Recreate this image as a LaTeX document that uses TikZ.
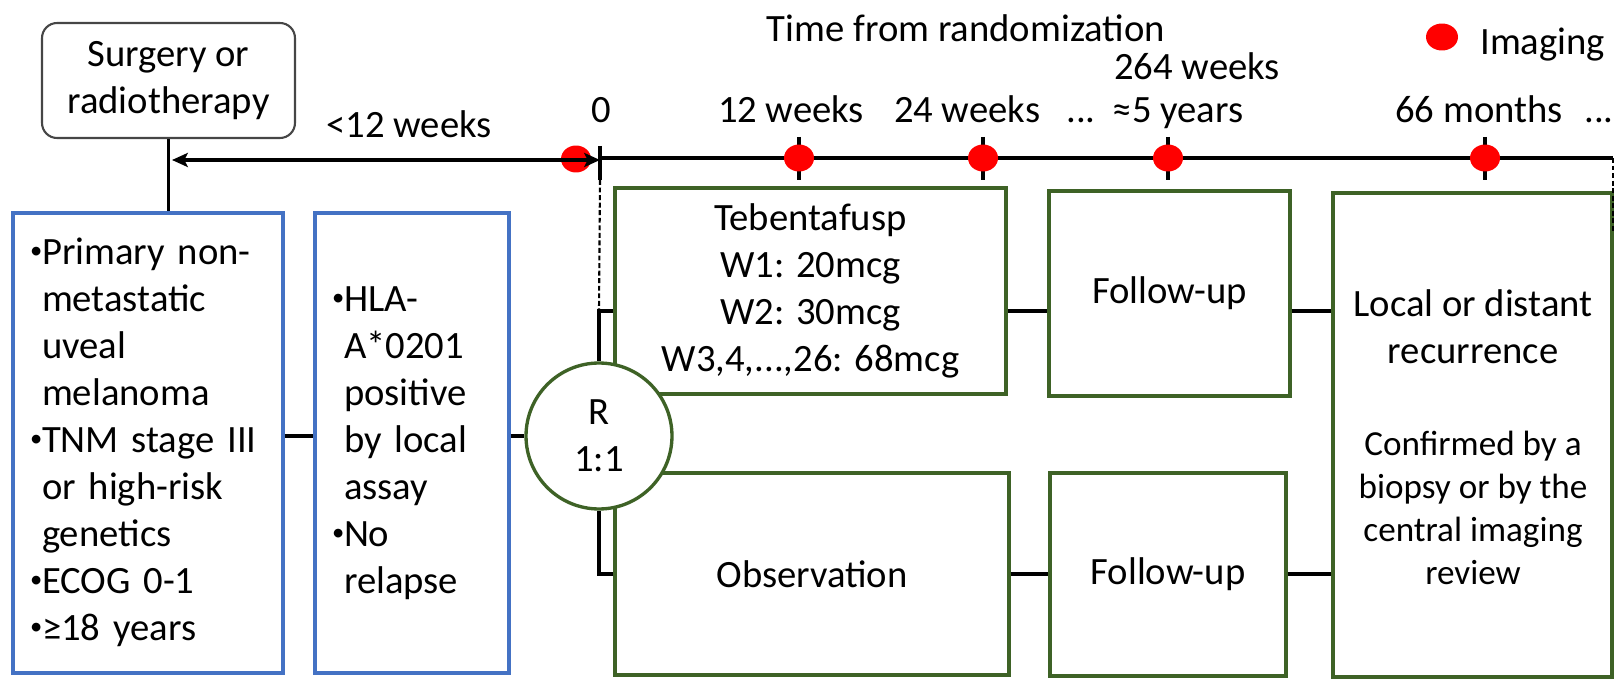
\documentclass[tikz,border=0pt]{standalone}
\usepackage{fontspec}
\setmainfont{Carlito}
\usepackage{xcolor}
\usepackage{tikz}
\usetikzlibrary{arrows.meta,shapes.geometric}
\definecolor{azul}{RGB}{68,114,196}
\definecolor{verde}{RGB}{62,98,38}
\definecolor{gris}{RGB}{70,70,70}
\newcommand{\vi}{\makebox[0.24cm][l]{\raisebox{0.12cm}{\fontsize{14}{14}\selectfont •}}}
\tikzset{
  texto/.style={font=\fontsize{22}{26.7}\selectfont,align=center,inner sep=0pt},
  textop/.style={font=\fontsize{20}{24.5}\selectfont,align=center,inner sep=0pt},
  inicio/.style={texto,draw=gris,line width=1.2pt,rounded corners=0.3cm},
  criterio/.style={texto,draw=azul,line width=1.9pt,align=left,inner xsep=0.34cm,minimum height=9.2cm},
  brazo/.style={texto,draw=verde,line width=1.9pt},
  con/.style={line width=1.9pt},
  eje/.style={line width=2.6pt},
  marca/.style={line width=2.8pt},
  guia/.style={line width=1.2pt,dash pattern=on 2.8pt off 1.5pt},
  flecha/.style={<->,>={Stealth[length=9pt,width=8pt,inset=2pt]},line width=2.4pt},
  imagen/.style={ellipse,fill=red,inner sep=0pt,minimum width=0.6cm,minimum height=0.54cm}
}
\begin{document}
\begin{tikzpicture}[x=0.02cm,y=-0.02cm]
\useasboundingbox (0,0) rectangle (1620,679);
\node[inicio,minimum width=5.06cm,minimum height=2.3cm] (surg) at (168.5,80.5) {Surgery or\\radiotherapy};
\node[criterio,text width=4.72cm] (incl1) at (148,443) {\begin{tabular}{@{}l@{}l@{}}
\vi&Primary non-\\&metastatic\\&uveal\\&melanoma\\
\vi&TNM stage III\\&or high-risk\\&genetics\\
\vi&ECOG 0-1\\
\vi&≥18 years\end{tabular}};
\node[criterio,text width=3.2cm] (incl2) at (412,443) {\begin{tabular}{@{}l@{}l@{}}
\vi&HLA-\\&A*0201\\&positive\\&by local\\&assay\\
\vi&No\\&relapse\end{tabular}};
\node[brazo,minimum width=7.82cm,minimum height=4.12cm] (treat) at (810.5,291) {Tebentafusp\\W1: 20mcg\\W2: 30mcg\\W3,4,...,26: 68mcg};
\node[brazo,minimum width=7.88cm,minimum height=4.04cm] (obs) at (812,574) {Observation};
\node[brazo,minimum width=4.82cm,minimum height=4.1cm] (fu1) at (1169.5,293.5) {Follow-up};
\node[brazo,minimum width=4.72cm,minimum height=4.06cm] (fu2) at (1168,574.5) {Follow-up};
\node[brazo,minimum width=5.58cm,minimum height=9.68cm] (rec) at (1472.5,435) {};
\node[texto] at (1473,327) {Local or distant\\recurrence};
\node[textop] at (1473,508) {Confirmed by a\\biopsy or by the\\central imaging\\review};
\node[brazo,circle,fill=white,minimum size=2.92cm] (rnd) at (599,436) {R\\1:1};
\coordinate (nA) at (0,311);
\coordinate (nB) at (0,574);
\draw[con] (surg.south) -- (surg.south |- incl1.north);
\draw[con] (incl1.east |- rnd) -- (incl2.west |- rnd);
\draw[con] (incl2.east |- rnd) -- (rnd.west);
\draw[con] (treat.west |- nA) -- (rnd.north |- nA) -- (rnd.north);
\draw[con] (obs.west |- nB) -- (rnd.south |- nB) -- (rnd.south);
\draw[con] (treat.east |- nA) -- (fu1.west |- nA);
\draw[con] (fu1.east |- nA) -- (rec.west |- nA);
\draw[con] (obs.east |- nB) -- (fu2.west |- nB);
\draw[con] (fu2.east |- nB) -- (rec.west |- nB);
\coordinate (t0) at (600,158);
\coordinate (tfin) at (1613,158);
\coordinate (a0) at (172,160);
\draw[eje] (t0) -- (tfin);
\draw[marca] (600,146) -- (600,180);
\draw[marca] (799,137) -- (799,180);
\draw[marca] (983,137) -- (983,180);
\draw[marca] (1168,137) -- (1168,180);
\draw[marca] (1485,137) -- (1485,180);
\draw[guia] (600,180) -- (rnd.north |- nA);
\draw[guia] (tfin) -- (1613,232);
\node[imagen] (d0) at (576,159) {};
\node[imagen] (d12) at (799,158) {};
\node[imagen] (d24) at (983,158) {};
\node[imagen] (d264) at (1168,158) {};
\node[imagen] (d66) at (1485,158) {};
\draw[flecha] (a0) -- (t0 |- a0);
\node[imagen,minimum width=0.64cm] (leg) at (1442,37) {};
\node[texto,anchor=base west] at (1480,55) {Imaging};
\node[texto,anchor=base] at (966,42) {Time from randomization};
\node[texto,anchor=base] at (1197,80) {264 weeks};
\node[texto,anchor=base] at (409,137) {<12 weeks};
\node[texto,anchor=base] at (601,123) {0};
\node[texto,anchor=base] at (791,123) {12 weeks};
\node[texto,anchor=base] at (967,123) {24 weeks};
\node[texto,anchor=base] at (1081,123) {...};
\node[texto,anchor=base] at (1178,123) {≈5 years};
\node[texto,anchor=base] at (1479,123) {66 months};
\node[texto,anchor=base] at (1599,123) {...};
\end{tikzpicture}
\end{document}
